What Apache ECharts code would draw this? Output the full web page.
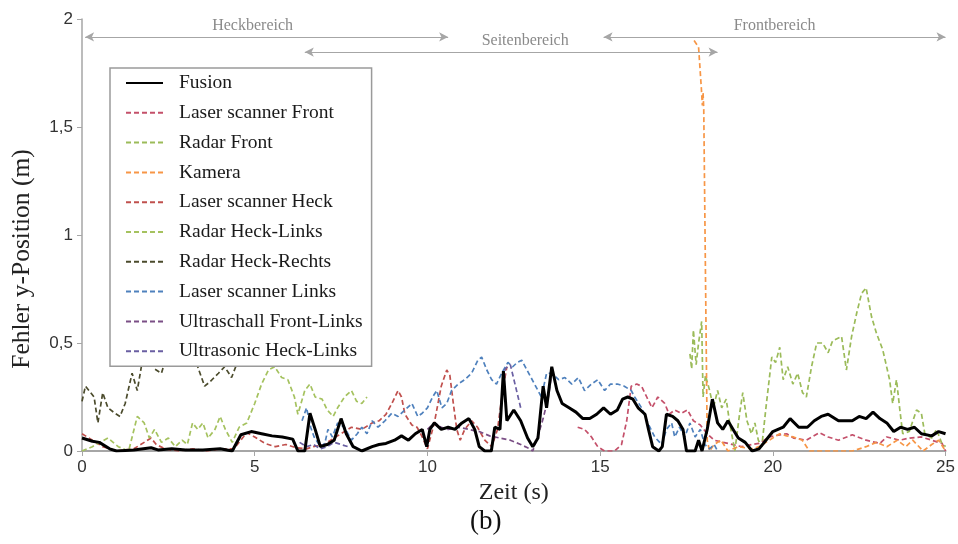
<!DOCTYPE html>
<html>
<head>
<meta charset="utf-8">
<script src="https://cdn.jsdelivr.net/npm/echarts@6/dist/echarts.min.js"></script>
<style>html,body{margin:0;padding:0;background:#fff}#c{width:958px;height:544px}</style>
</head>
<body>
<div id="c"></div>
<script>
const xTicks = [0, 5, 10, 15, 20, 25];
const yTicks = [0, 0.5, 1, 1.5, 2];

const fusion = [[0,0.06],[0.3,0.045],[0.5,0.04],[0.8,0.01],[1.0,0.0],[1.5,0.005],[2.0,0.015],[2.2,0.005],[2.6,0.01],[3.0,0.005],[3.5,0.005],[4.0,0.01],[4.35,0.0],[4.6,0.075],[4.9,0.09],[5.2,0.08],[5.5,0.07],[5.8,0.065],[6.1,0.055],[6.25,0.0],[6.45,0.0],[6.6,0.175],[6.75,0.1],[6.9,0.02],[7.1,0.03],[7.3,0.05],[7.5,0.15],[7.65,0.08],[7.85,0.02],[8.1,0.0],[8.4,0.02],[8.6,0.03],[8.8,0.035],[9.05,0.05],[9.25,0.07],[9.45,0.05],[9.65,0.08],[9.85,0.1],[9.98,0.02],[10.07,0.1],[10.2,0.13],[10.4,0.1],[10.6,0.11],[10.8,0.1],[11.0,0.13],[11.2,0.15],[11.37,0.1],[11.5,0.02],[11.66,0.0],[11.85,0.0],[11.95,0.11],[12.1,0.1],[12.2,0.37],[12.3,0.14],[12.5,0.19],[12.7,0.14],[12.9,0.06],[13.05,0.02],[13.2,0.06],[13.35,0.3],[13.45,0.2],[13.6,0.39],[13.75,0.28],[13.9,0.22],[14.1,0.2],[14.3,0.18],[14.5,0.15],[14.7,0.15],[14.9,0.17],[15.1,0.2],[15.3,0.17],[15.5,0.19],[15.65,0.24],[15.8,0.25],[15.95,0.24],[16.1,0.2],[16.3,0.17],[16.4,0.1],[16.52,0.02],[16.7,0.0],[16.8,0.02],[16.92,0.17],[17.1,0.16],[17.25,0.14],[17.4,0.1],[17.5,0.0],[17.75,0.0],[17.85,0.05],[17.95,0.0],[18.1,0.1],[18.25,0.24],[18.4,0.13],[18.55,0.1],[18.7,0.14],[18.85,0.1],[19.0,0.06],[19.2,0.04],[19.4,0.0],[19.6,0.01],[19.8,0.05],[20.0,0.09],[20.3,0.11],[20.5,0.15],[20.75,0.11],[21.0,0.11],[21.2,0.14],[21.4,0.16],[21.6,0.17],[21.9,0.14],[22.1,0.14],[22.3,0.14],[22.5,0.16],[22.7,0.15],[22.9,0.18],[23.1,0.15],[23.3,0.13],[23.5,0.09],[23.7,0.11],[23.9,0.1],[24.1,0.11],[24.3,0.08],[24.6,0.07],[24.8,0.09],[25.0,0.08]];

const laserFront = [[14.35,0.11],[14.55,0.1],[14.75,0.065],[14.93,0.02],[15.13,0.0],[15.42,0.0],[15.62,0.03],[15.77,0.14],[15.9,0.3],[16.06,0.31],[16.2,0.3],[16.35,0.25],[16.5,0.2],[16.67,0.25],[16.87,0.22],[17.0,0.17],[17.16,0.19],[17.35,0.175],[17.53,0.19],[17.7,0.14],[17.9,0.12],[18.1,0.08],[18.3,0.05],[18.7,0.035],[19.1,0.02],[19.4,0.03],[19.6,0.035],[19.9,0.065],[20.2,0.075],[20.4,0.08],[20.6,0.06],[20.97,0.05],[21.35,0.085],[21.6,0.065],[21.9,0.05],[22.3,0.075],[22.7,0.05],[23.1,0.035],[23.3,0.065],[23.67,0.05],[23.96,0.06],[24.3,0.065],[24.6,0.05],[24.9,0.035],[25.0,0.0]];

const radarFront = [[17.6,0.45],[17.65,0.38],[17.7,0.56],[17.78,0.4],[17.85,0.5],[17.94,0.6],[17.98,0.25],[18.05,0.35],[18.17,0.28],[18.28,0.2],[18.4,0.28],[18.52,0.2],[18.65,0.24],[18.75,0.13],[18.9,0.0],[19.04,0.175],[19.13,0.27],[19.25,0.14],[19.38,0.08],[19.48,0.13],[19.58,0.05],[19.68,0.02],[19.8,0.2],[19.97,0.435],[20.08,0.41],[20.2,0.48],[20.3,0.33],[20.43,0.39],[20.58,0.31],[20.72,0.36],[20.86,0.27],[20.97,0.25],[21.12,0.39],[21.27,0.5],[21.44,0.5],[21.6,0.455],[21.73,0.51],[21.99,0.53],[22.13,0.375],[22.28,0.53],[22.43,0.64],[22.57,0.73],[22.7,0.755],[22.86,0.62],[23.0,0.545],[23.18,0.47],[23.38,0.33],[23.47,0.22],[23.58,0.33],[23.67,0.2],[23.76,0.08],[23.95,0.09],[24.16,0.19],[24.3,0.175],[24.4,0.08],[24.6,0.06],[24.74,0.1],[24.88,0.04],[25.0,0.02]];

const kamera = [[17.72,1.9],[17.85,1.87],[17.93,1.68],[17.96,1.6],[17.98,1.66],[18.0,1.58],[18.1,0.05],[18.17,0.0],[18.3,0.03],[18.5,0.05],[18.7,0.0],[19.0,0.02],[19.4,0.01],[19.6,0.02],[19.8,0.04],[20.2,0.08],[20.4,0.07],[20.6,0.065],[20.85,0.05],[21.06,0.0],[21.4,0.0],[21.7,0.0],[22.0,0.0],[22.3,0.0],[22.7,0.02],[23.0,0.04],[23.3,0.02],[23.6,0.05],[23.85,0.02],[24.05,0.05],[24.35,0.0],[24.6,0.03],[24.8,0.05],[25.0,0.0]];

const laserHeck = [[0,0.08],[0.3,0.05],[0.6,0.02],[1.0,0.0],[1.5,0.01],[1.8,0.04],[2.0,0.06],[2.15,0.03],[2.4,0.01],[2.8,0.0],[3.2,0.01],[3.6,0.0],[4.0,0.01],[4.4,0.01],[4.77,0.085],[5.0,0.065],[5.3,0.035],[5.6,0.02],[5.9,0.03],[6.2,0.015],[6.5,0.01],[6.7,0.02],[7.0,0.03],[7.2,0.05],[7.5,0.08],[7.8,0.11],[8.1,0.1],[8.4,0.13],[8.6,0.14],[8.8,0.17],[8.97,0.22],[9.15,0.28],[9.25,0.25],[9.35,0.17],[9.55,0.12],[9.7,0.11],[9.85,0.065],[10.0,0.01],[10.2,0.13],[10.4,0.3],[10.56,0.375],[10.65,0.35],[10.75,0.22],[10.85,0.1],[10.95,0.05],[11.08,0.1],[11.28,0.14],[11.45,0.11],[11.66,0.05],[11.86,0.02],[12.03,0.1],[12.18,0.28],[12.3,0.39]];

const radarHeckLinks = [[0,0.0],[0.3,0.02],[0.75,0.06],[1.05,0.02],[1.35,0.0],[1.6,0.16],[1.8,0.13],[1.95,0.06],[2.1,0.1],[2.3,0.04],[2.5,0.06],[2.7,0.02],[2.9,0.05],[3.05,0.03],[3.2,0.13],[3.35,0.1],[3.5,0.13],[3.65,0.06],[3.85,0.1],[4.0,0.16],[4.15,0.1],[4.35,0.04],[4.55,0.11],[4.77,0.13],[5.0,0.22],[5.2,0.31],[5.4,0.375],[5.58,0.39],[5.78,0.34],[5.96,0.33],[6.15,0.25],[6.25,0.17],[6.45,0.28],[6.6,0.31],[6.75,0.25],[6.95,0.24],[7.1,0.19],[7.27,0.16],[7.4,0.2],[7.6,0.25],[7.8,0.28],[7.95,0.23],[8.1,0.22],[8.25,0.25]];

const radarHeckRechts = [[0,0.23],[0.1,0.3],[0.25,0.27],[0.35,0.25],[0.46,0.13],[0.6,0.27],[0.75,0.2],[0.95,0.175],[1.1,0.16],[1.25,0.22],[1.45,0.36],[1.6,0.28],[1.75,0.42],[1.9,0.48],[2.1,0.38],[2.3,0.36],[2.45,0.44],[2.7,0.5],[3.0,0.48],[3.2,0.45],[3.35,0.39],[3.55,0.3],[3.7,0.32],[3.95,0.36],[4.13,0.39],[4.33,0.34],[4.45,0.39]];

const laserLinks = [[6.37,0.14],[6.5,0.2],[6.62,0.11],[6.72,0.065],[6.9,0.02],[7.03,0.035],[7.12,0.1],[7.25,0.065],[7.4,0.13],[7.6,0.11],[7.8,0.05],[7.97,0.08],[8.1,0.11],[8.25,0.08],[8.4,0.14],[8.57,0.11],[8.77,0.14],[8.97,0.175],[9.15,0.16],[9.35,0.19],[9.55,0.22],[9.72,0.16],[9.85,0.175],[10.0,0.2],[10.15,0.25],[10.27,0.28],[10.42,0.2],[10.56,0.22],[10.7,0.28],[10.89,0.31],[11.08,0.33],[11.28,0.36],[11.46,0.42],[11.57,0.435],[11.72,0.375],[11.86,0.33],[12.0,0.31],[12.15,0.36],[12.33,0.41],[12.47,0.39],[12.6,0.41],[12.73,0.42],[12.9,0.37],[13.1,0.31],[13.3,0.25],[13.45,0.36],[13.6,0.36],[13.8,0.33],[13.98,0.34],[14.18,0.31],[14.37,0.34],[14.55,0.28],[14.75,0.31],[14.93,0.33],[15.13,0.28],[15.3,0.31],[15.5,0.31],[15.7,0.3],[15.9,0.28],[16.0,0.25],[16.2,0.2],[16.38,0.13],[16.58,0.065],[16.78,0.03],[16.92,0.1],[17.07,0.13],[17.16,0.065],[17.3,0.11],[17.45,0.065],[17.6,0.13],[17.75,0.065],[17.9,0.1],[18.03,0.03],[18.17,0.01],[18.3,0.03],[18.4,0.0]];

const ultraFrontLinks = [[10.0,0.1],[10.2,0.13],[10.4,0.11],[10.6,0.1],[10.9,0.11],[11.2,0.1],[11.5,0.09],[11.8,0.07],[12.1,0.06],[12.4,0.05],[12.7,0.03],[12.9,0.015],[13.05,0.0],[13.2,0.07],[13.35,0.15],[13.5,0.25],[13.6,0.36]];

const ultraHeckLinks = [[6.3,0.04],[6.5,0.02],[6.7,0.03],[6.9,0.01],[7.1,0.02],[7.3,0.04],[7.5,0.03],[7.7,0.02],[7.8,null],[12.1,0.15],[12.25,0.38],[12.4,0.4],[12.55,0.3],[12.7,0.2]];

const zones = [
  {name: 'Heckbereich', from: 0.09, to: 10.6, level: 1.917, shift: -14},
  {name: 'Seitenbereich', from: 6.45, to: 18.4, level: 1.847, shift: 14},
  {name: 'Frontbereich', from: 15.1, to: 25, level: 1.917, shift: 0}
];

const serif = "'Liberation Serif','Times New Roman',serif";
const sans = "'Liberation Sans',Arial,sans-serif";
const dash = [5, 3];

function dashed(name, data, color) {
  return {
    name, type: 'line', data, symbol: 'none', connectNulls: false,
    lineStyle: {color, width: 1.7, type: dash},
    itemStyle: {color}, z: 2, animation: false
  };
}

const series = [
  {name: 'Fusion', type: 'line', data: fusion, symbol: 'none',
   lineStyle: {color: '#000', width: 3}, itemStyle: {color: '#000'}, z: 4, animation: false},
  dashed('Laser scanner Front', laserFront, '#c4506a'),
  dashed('Radar Front', radarFront, '#9bbb59'),
  dashed('Kamera', kamera, '#f79646'),
  dashed('Laser scanner Heck', laserHeck, '#c0504d'),
  dashed('Radar Heck-Links', radarHeckLinks, '#a5c25f'),
  dashed('Radar Heck-Rechts', radarHeckRechts, '#4b4b2c'),
  dashed('Laser scanner Links', laserLinks, '#4f81bd'),
  dashed('Ultraschall Front-Links', ultraFrontLinks, '#7b4f86'),
  dashed('Ultrasonic Heck-Links', ultraHeckLinks, '#6a5fa2'),
  {name: 'zones', type: 'line', data: [], symbol: 'none', animation: false,
   markLine: {
     silent: true, symbol: ['arrow', 'arrow'], symbolSize: [7, 9], animation: false,
     lineStyle: {color: '#a6a6a6', width: 1.2, type: 'solid'},
     label: {show: true, position: 'insideMiddleTop', color: '#8a8a8a', fontFamily: serif, fontSize: 16, distance: 3},
     data: zones.map(z => [
       {coord: [z.from, z.level], label: {formatter: z.name, padding: z.shift < 0 ? [0, -2*z.shift, 0, 0] : [0, 0, 0, 2*z.shift]}},
       {coord: [z.to, z.level]}
     ])
   }}
];

const chart = echarts.init(document.getElementById('c'), null, {renderer: 'canvas'});
chart.setOption({
  backgroundColor: '#fff',
  animation: false,
  title: {text: '(b)', left: 465, top: 503, textStyle: {fontFamily: serif, fontSize: 27, fontWeight: 'normal', color: '#111'}},
  grid: {left: 82, right: 12, top: 19, bottom: 93},
  legend: {
    data: series.slice(0, 10).map(s => s.name),
    orient: 'vertical', left: 110, top: 68,
    itemWidth: 37, itemHeight: 14, itemGap: 9.8,
    padding: [5, 9, 5, 15],
    backgroundColor: '#fff', borderColor: '#9a9a9a', borderWidth: 1.5,
    itemStyle: {opacity: 0},
    textStyle: {fontFamily: serif, fontSize: 19.5, lineHeight: 19, color: '#1a1a1a', padding: [0, 0, 0, 11]},
    selectedMode: false
  },
  xAxis: {
    type: 'value', min: xTicks[0], max: xTicks[xTicks.length - 1], interval: 5,
    name: 'Zeit (s)', nameLocation: 'middle', nameGap: 29,
    nameTextStyle: {fontFamily: serif, fontSize: 24, color: '#222'},
    axisLine: {lineStyle: {color: '#a6a6a6', width: 2}},
    axisTick: {show: true, length: 5, lineStyle: {color: '#a6a6a6'}},
    axisLabel: {fontFamily: sans, fontSize: 17, color: '#333', margin: 8},
    splitLine: {show: false}
  },
  yAxis: {
    type: 'value', min: yTicks[0], max: yTicks[yTicks.length - 1], interval: 0.5,
    name: 'Fehler y-Position (m)', nameLocation: 'middle', nameGap: 47,
    nameTextStyle: {fontFamily: serif, fontSize: 25.5, color: '#222', padding: [0, 48, 0, 0]},
    axisLine: {show: true, lineStyle: {color: '#a6a6a6', width: 1.5}},
    axisTick: {show: true, length: 5, lineStyle: {color: '#a6a6a6'}},
    axisLabel: {fontFamily: sans, fontSize: 17, color: '#333', margin: 9,
      formatter: v => String(v).replace('.', ',')},
    splitLine: {show: false}
  },
  series
});
</script>
</body>
</html>
